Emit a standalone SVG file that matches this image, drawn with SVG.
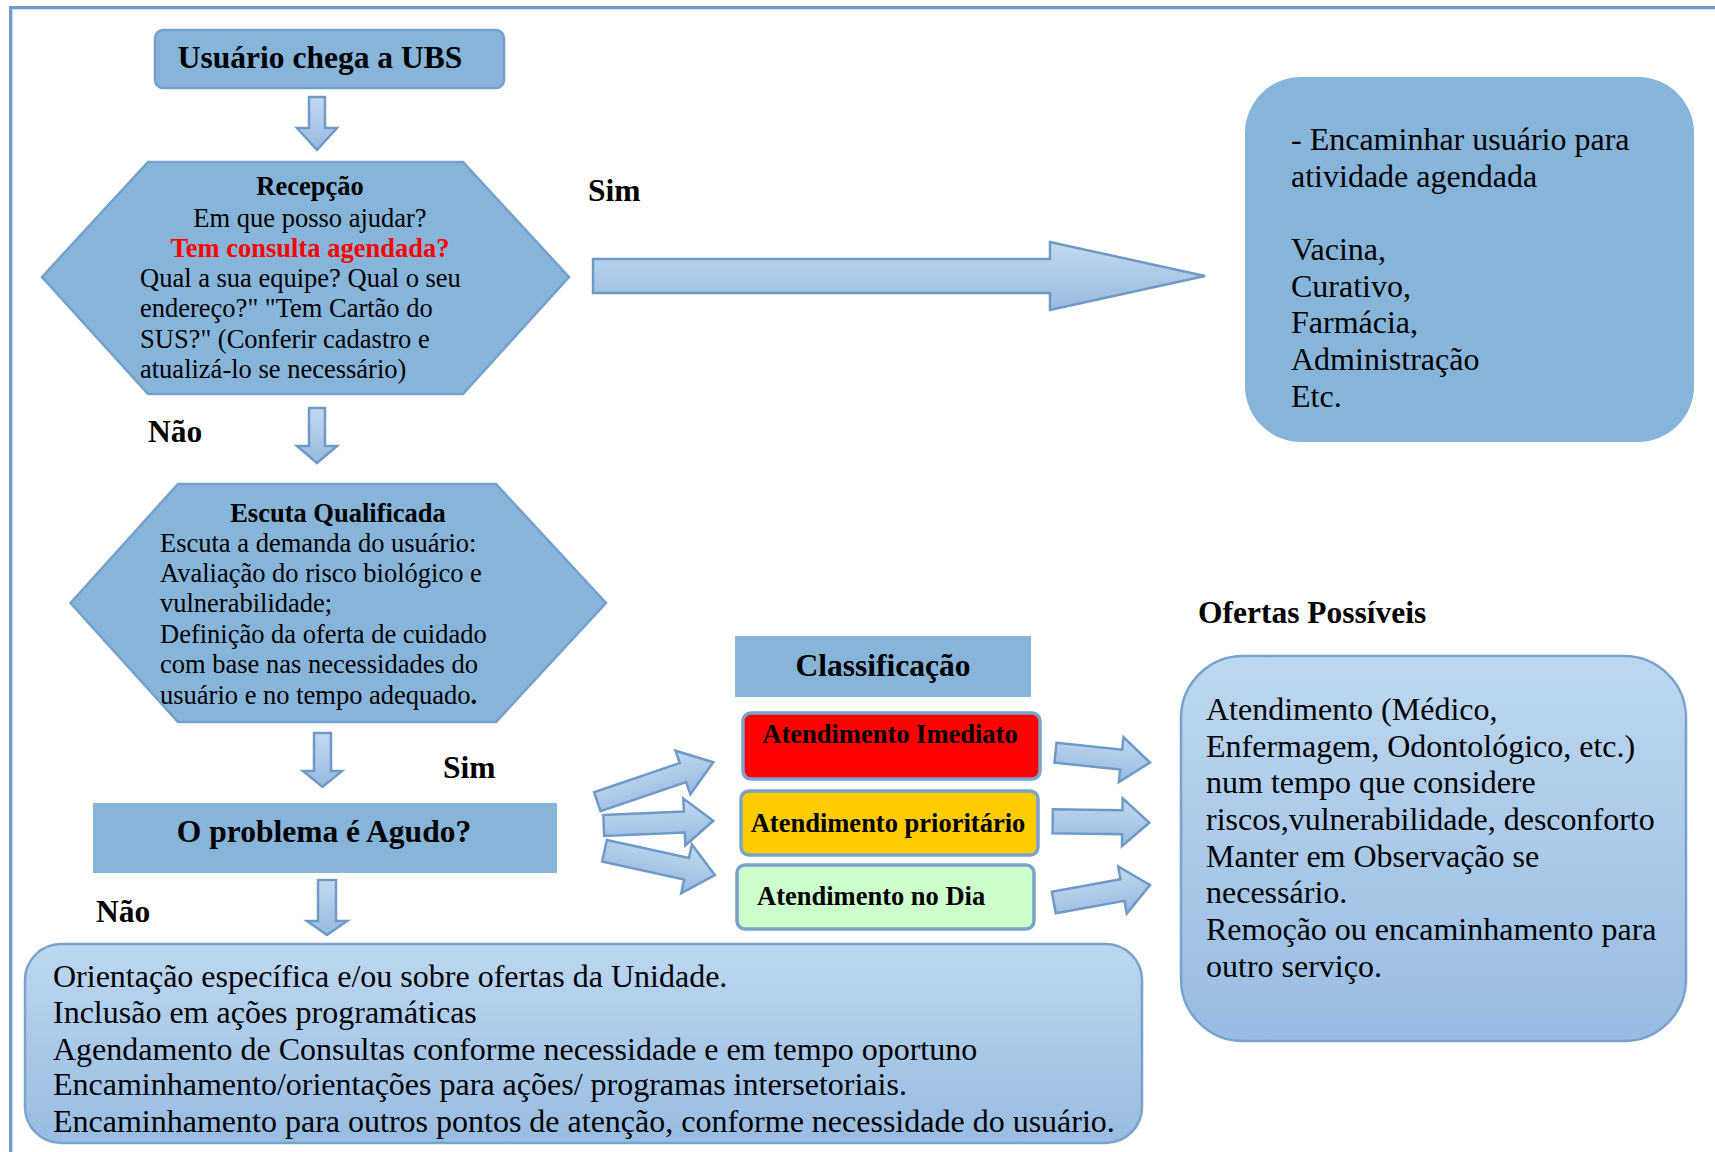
<svg xmlns="http://www.w3.org/2000/svg" width="1715" height="1152" viewBox="0 0 1715 1152">
<defs>
<linearGradient id="arrowGrad" x1="0" y1="0" x2="0" y2="1">
<stop offset="0" stop-color="#c3d9f1"/>
<stop offset="1" stop-color="#97bae0"/>
</linearGradient>
<linearGradient id="boxGrad" x1="0" y1="0" x2="0" y2="1">
<stop offset="0" stop-color="#bdd7f0"/>
<stop offset="1" stop-color="#98bce2"/>
</linearGradient>
</defs>
<style>
text{font-family:"Liberation Serif","Times New Roman",serif;fill:#000}
.b{font-weight:bold}
.s26{font-size:26.5px}
.s31{font-size:31.5px}
.s32{font-size:32px}
.mid{text-anchor:middle}
.node{fill:#87b4d9}
.nodeS{fill:#87b4d9;stroke:#75a0cb;stroke-width:2.5}
.arrow{fill:url(#arrowGrad);stroke:#6f9ac6;stroke-width:2.5;stroke-linejoin:miter}
.grad{fill:url(#boxGrad);stroke:#7aa3cc;stroke-width:2.5}
.cls{stroke:#7aa3cc;stroke-width:3.5}
</style>
<rect width="1715" height="1152" fill="#ffffff"/>
<!-- frame -->
<path d="M10.5,1152 V7.5 H1715" fill="none" stroke="#709cc7" stroke-width="3"/>
<path d="M12.5,1152 V9.5 H1715" fill="none" stroke="#c9dcf0" stroke-width="1"/>

<g id="connectors">
<!-- down arrows -->
<path class="arrow" d="M309,97 H325 V128 H337 L317,150 L297,128 H309 Z"/>
<path class="arrow" d="M309,408 H325 V446 H337 L317,463 L297,446 H309 Z"/>
<path class="arrow" d="M314,733 H331 V771 H342 L322.5,787 L303,771 H314 Z"/>
<path class="arrow" d="M318,880 H336 V921 H347 L327,935 L307,921 H318 Z"/>
<!-- big right arrow -->
<path class="arrow" d="M593,259 H1050 V242 L1205,276 L1050,310 V293 H593 Z"/>
<!-- fan arrows to classification -->
<path class="arrow" transform="translate(597.3,801.7) rotate(-18.8)" d="M0,-10 H90.5 V-23 L122.5,0 L90.5,23 V10 H0 Z"/>
<path class="arrow" transform="translate(603.7,825.5) rotate(-2.5)" d="M0,-10.5 H80.7 V-23.5 L109.7,0 L80.7,23.5 V10.5 H0 Z"/>
<path class="arrow" transform="translate(604.5,850.8) rotate(12.4)" d="M0,-11 H84 V-25 L113,0 L84,25 V11 H0 Z"/>
<!-- arrows to ofertas -->
<path class="arrow" transform="translate(1055.5,752.7) rotate(6)" d="M0,-10 H66 V-22.5 L95,0 L66,22.5 V10 H0 Z"/>
<path class="arrow" transform="translate(1052.7,821.3) rotate(0.8)" d="M0,-12 H69.6 V-24 L96.6,0 L69.6,24 V12 H0 Z"/>
<path class="arrow" transform="translate(1053.8,902.5) rotate(-10.3)" d="M0,-11 H69.8 V-24 L97.8,0 L69.8,24 V11 H0 Z"/>
</g>

<g id="lbl-sim1"><text class="b s31" x="588" y="201">Sim</text></g>
<g id="lbl-nao1"><text class="b s31" x="148" y="442">Não</text></g>
<g id="lbl-sim2"><text class="b s31" x="443" y="778">Sim</text></g>
<g id="lbl-nao2"><text class="b s31" x="96" y="922">Não</text></g>

<g id="n-start">
<rect class="nodeS" x="155" y="30" width="349" height="58" rx="8"/>
<text class="b s31 mid" x="320" y="68">Usuário chega a UBS</text>
</g>

<g id="n-recepcao">
<polygon class="nodeS" points="42,277 148,162 463,162 569,277 463,394 148,394"/>
<text class="b s26 mid" x="310" y="195">Recepção</text>
<text class="s26 mid" x="310" y="227">Em que posso ajudar?</text>
<text class="b s26 mid" x="310" y="257" style="fill:#ff0000">Tem consulta agendada?</text>
<text class="s26" x="140" y="287">Qual a sua equipe? Qual o seu</text>
<text class="s26" x="140" y="317">endereço?" "Tem Cartão do</text>
<text class="s26" x="140" y="348">SUS?" (Conferir cadastro e</text>
<text class="s26" x="140" y="378">atualizá-lo se necessário)</text>
</g>

<g id="n-agendada">
<rect class="node" x="1245" y="77" width="449" height="365" rx="56" ry="56"/>
<text class="s32" x="1291" y="150">- Encaminhar usuário para</text>
<text class="s32" x="1291" y="187">atividade agendada</text>
<text class="s32" x="1291" y="260">Vacina,</text>
<text class="s32" x="1291" y="297">Curativo,</text>
<text class="s32" x="1291" y="333">Farmácia,</text>
<text class="s32" x="1291" y="370">Administração</text>
<text class="s32" x="1291" y="407">Etc.</text>
</g>

<g id="n-escuta">
<polygon class="nodeS" points="70.5,603 178,484 496,484 606,603 496,722 178,722"/>
<text class="b s26 mid" x="338" y="522">Escuta Qualificada</text>
<text class="s26" x="160" y="552">Escuta a demanda do usuário:</text>
<text class="s26" x="160" y="582">Avaliação do risco biológico e</text>
<text class="s26" x="160" y="612">vulnerabilidade;</text>
<text class="s26" x="160" y="643">Definição da oferta de cuidado</text>
<text class="s26" x="160" y="673">com base nas necessidades do</text>
<text class="s26" x="160" y="704">usuário e no tempo adequado<tspan class="b">.</tspan></text>
</g>

<g id="n-agudo">
<rect class="node" x="93" y="803" width="464" height="70"/>
<text class="b s31 mid" x="324" y="842">O problema é Agudo?</text>
</g>

<g id="n-classificacao">
<rect class="node" x="735" y="636" width="296" height="61"/>
<text class="b s31 mid" x="883" y="676">Classificação</text>
</g>

<g id="n-imediato">
<rect class="cls" x="743" y="713" width="297" height="66" rx="8" fill="#ff0000"/>
<text class="b s26 mid" x="890" y="743">Atendimento Imediato</text>
</g>

<g id="n-prioritario">
<rect class="cls" x="741" y="791" width="297" height="64" rx="8" fill="#ffcc00"/>
<text class="b s26 mid" x="888" y="832">Atendimento prioritário</text>
</g>

<g id="n-dia">
<rect class="cls" x="737" y="865" width="297" height="64" rx="8" fill="#ccffcc"/>
<text class="b s26" x="757" y="905">Atendimento no Dia</text>
</g>

<g id="n-ofertas">
<text class="b s31" x="1198" y="623">Ofertas Possíveis</text>
<rect class="grad" x="1181" y="656" width="505" height="385" rx="62" ry="62"/>
<text class="s32" x="1206" y="720">Atendimento (Médico,</text>
<text class="s32" x="1206" y="757">Enfermagem, Odontológico, etc.)</text>
<text class="s32" x="1206" y="793">num tempo que considere</text>
<text class="s32" x="1206" y="830">riscos,vulnerabilidade, desconforto</text>
<text class="s32" x="1206" y="867">Manter em Observação se</text>
<text class="s32" x="1206" y="903">necessário.</text>
<text class="s32" x="1206" y="940">Remoção ou encaminhamento para</text>
<text class="s32" x="1206" y="977">outro serviço.</text>
</g>

<g id="n-naoagudo">
<rect class="grad" x="25" y="944" width="1117" height="199" rx="36" ry="36"/>
<text class="s32" x="53" y="987">Orientação específica e/ou sobre ofertas da Unidade.</text>
<text class="s32" x="53" y="1023">Inclusão em ações programáticas</text>
<text class="s32" x="53" y="1060">Agendamento de Consultas conforme necessidade e em tempo oportuno</text>
<text class="s32" x="53" y="1095">Encaminhamento/orientações para ações/ programas intersetoriais.</text>
<text class="s32" x="53" y="1132">Encaminhamento para outros pontos de atenção, conforme necessidade do usuário.</text>
</g>
</svg>
